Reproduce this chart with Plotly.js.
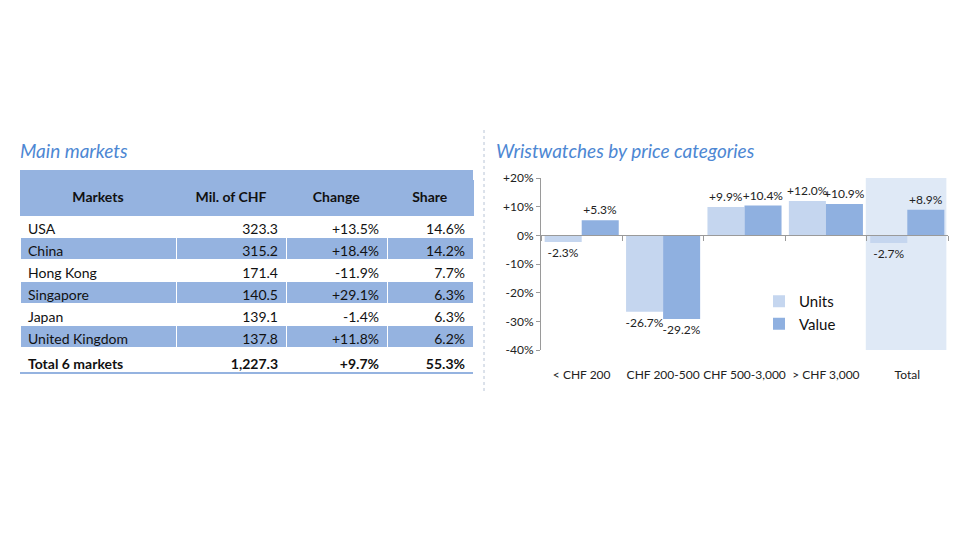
<!DOCTYPE html>
<html><head><meta charset="utf-8">
<script src="https://cdn.plot.ly/plotly-3.0.1.min.js"></script>
<style>html,body{margin:0;padding:0;background:#fff}#c{width:959px;height:540px}</style>
</head><body><div id="c"></div>
<script>
// Table data
const tableHeaders = ["Markets", "Mil. of CHF", "Change", "Share"];
const markets = ["USA", "China", "Hong Kong", "Singapore", "Japan", "United Kingdom", "Total 6 markets"];
const milCHF = [323.3, 315.2, 171.4, 140.5, 139.1, 137.8, 1227.3];
const changePct = [13.5, 18.4, -11.9, 29.1, -1.4, 11.8, 9.7];
const sharePct = [14.6, 14.2, 7.7, 6.3, 6.3, 6.2, 55.3];

// Chart data
const priceCategories = ["< CHF 200", "CHF 200-500", "CHF 500-3,000", "> CHF 3,000", "Total"];
const unitsChange = [-2.3, -26.7, 9.9, 12.0, -2.7];
const valueChange = [5.3, -29.2, 10.4, 10.9, 8.9];
const yTickVals = [20, 10, 0, -10, -20, -30, -40];
const yTickText = ["+20%", "+10%", "0%", "-10%", "-20%", "-30%", "-40%"];

const FONT = "Lato, 'Liberation Sans', sans-serif";
const BLUE = "#95b3e0";
const TITLE_BLUE = "#4d87d3";
const UNITS_C = "#c5d6ef";
const VALUE_C = "#8fb0e0";

const fmtNum = v => v.toLocaleString("en-US", {minimumFractionDigits: 1, maximumFractionDigits: 1});
const fmtSigned = v => (v > 0 ? "+" : "") + v.toFixed(1) + "%";
const fmtPct = v => v.toFixed(1) + "%";

const n = markets.length;
const isTotal = i => i === n - 1;
const bold = (s, i) => isTotal(i) ? "<b>" + s + "</b>" : s;

const col1 = markets.map((m, i) => bold(m, i));
const col2 = milCHF.map((v, i) => bold(fmtNum(v), i));
const col3 = changePct.map((v, i) => bold(fmtSigned(v), i));
const col4 = sharePct.map((v, i) => bold(fmtPct(v), i));
const rowFill = markets.map((m, i) => (i % 2 === 1 && !isTotal(i)) ? BLUE : "#ffffff");

const W = 959, H = 540;
const px = x => x / W, py = y => 1 - y / H;

const table = {
  type: "table",
  domain: {x: [px(20), px(473)], y: [py(390), py(180)]},
  columnwidth: [156, 110, 101, 86],
  header: {
    values: tableHeaders.map(h => "<b>" + h + "</b>"),
    align: "center",
    height: 35,
    fill: {color: BLUE},
    line: {color: BLUE, width: 1},
    font: {family: FONT, size: 14, color: "#111"}
  },
  cells: {
    values: [col1, col2, col3, col4],
    align: ["left", "right", "right", "right"],
    height: 22,
    fill: {color: [rowFill, rowFill, rowFill, rowFill]},
    line: {color: "#ffffff", width: 1},
    font: {family: FONT, size: 14, color: "#111"}
  }
};

const textOf = arr => arr.map(fmtSigned);

const units = {
  type: "bar", name: "Units", x: priceCategories, y: unitsChange,
  marker: {color: UNITS_C}, text: textOf(unitsChange), textposition: "outside",
  textfont: {family: FONT, size: 12, color: "#222"}, cliponaxis: false, constraintext: "none",
  xaxis: "x", yaxis: "y", hoverinfo: "skip"
};
const value = {
  type: "bar", name: "Value", x: priceCategories, y: valueChange,
  marker: {color: VALUE_C}, text: textOf(valueChange), textposition: "outside",
  textfont: {family: FONT, size: 12, color: "#222"}, cliponaxis: false, constraintext: "none",
  xaxis: "x", yaxis: "y", hoverinfo: "skip"
};

const yBot = py(350), yTop = py(178);
const zeroPos = yBot + (yTop - yBot) * (40 / 60);

const layout = {
  width: W, height: H,
  paper_bgcolor: "#fff", plot_bgcolor: "rgba(0,0,0,0)",
  margin: {l: 0, r: 0, t: 0, b: 0, pad: 0},
  font: {family: FONT, color: "#222"},
  barmode: "group", bargap: 0.09, bargroupgap: 0,
  showlegend: true,
  legend: {x: px(759), y: py(285), xanchor: "left", yanchor: "top",
    font: {family: FONT, size: 15, color: "#111"}, bgcolor: "rgba(0,0,0,0)",
    itemwidth: 30, tracegroupgap: 0},
  xaxis: {
    domain: [px(541), px(948)],
    type: "category", anchor: "free", position: zeroPos,
    showline: true, linecolor: "#9a9a9a", linewidth: 1,
    ticks: "outside", tickson: "boundaries", ticklen: 5, tickcolor: "#9a9a9a",
    ticklabelstandoff: 128, tickangle: 0, tickfont: {family: FONT, size: 12, color: "#222"},
    showgrid: false, zeroline: false, fixedrange: true
  },
  yaxis: {
    domain: [yBot, yTop],
    range: [-40, 20], tickvals: yTickVals, ticktext: yTickText,
    showline: true, linecolor: "#9a9a9a", ticks: "outside", ticklen: 4, tickcolor: "#9a9a9a",
    tickfont: {family: FONT, size: 12, color: "#222"},
    showgrid: false, zeroline: false, fixedrange: true
  },
  shapes: [
    {type: "rect", xref: "x", yref: "y", x0: 3.49, x1: 4.48, y0: -40.6, y1: 20,
     fillcolor: "#dfe9f6", line: {width: 0}, layer: "below"},
    {type: "rect", xref: "paper", yref: "paper", x0: px(20), x1: px(473), y0: py(181), y1: py(170),
     fillcolor: BLUE, line: {width: 0}, layer: "below"},
    {type: "line", xref: "paper", yref: "paper", x0: px(484), x1: px(484), y0: py(130), y1: py(392),
     line: {color: "#b8c4d6", width: 1, dash: "dot"}},
    {type: "line", xref: "paper", yref: "paper", x0: px(20), x1: px(473), y0: py(373), y1: py(373),
     line: {color: BLUE, width: 2}}
  ],
  annotations: [
    {text: "<i>Main markets</i>", xref: "paper", yref: "paper", x: px(18), y: py(150),
     xanchor: "left", yanchor: "middle", showarrow: false,
     font: {family: FONT, size: 19, color: TITLE_BLUE}},
    {text: "<i>Wristwatches by price categories</i>", xref: "paper", yref: "paper", x: px(494), y: py(150),
     xanchor: "left", yanchor: "middle", showarrow: false,
     font: {family: FONT, size: 19, color: TITLE_BLUE}}
  ]
};

Plotly.newPlot("c", [table, units, value], layout, {displayModeBar: false, staticPlot: true});
</script></body></html>
